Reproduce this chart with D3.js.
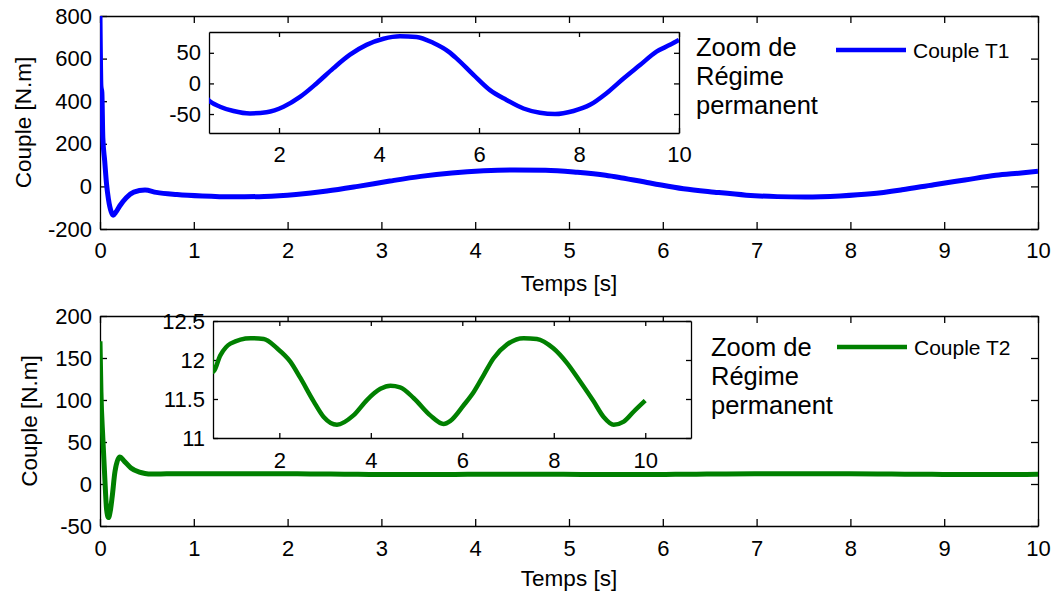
<!DOCTYPE html>
<html>
<head>
<meta charset="utf-8">
<script src="https://cdn.jsdelivr.net/npm/d3@7"></script>
<style>
  body { margin: 0; background: #fff; }
  svg { font-family: "Liberation Sans", Arial, sans-serif; }
</style>
</head>
<body>
<svg id="chart" width="1056" height="592"></svg>
<script>
// Couple T1
const t1Time = [0, 0.01, 0.02, 0.03, 0.05, 0.07, 0.09, 0.12, 0.14, 0.17, 0.21, 0.28, 0.36, 0.48,
  0.6, 0.82, 1.09, 1.42, 1.75, 2.09, 2.42, 2.75, 3.09, 3.42, 3.75, 4.09, 4.42, 4.75, 5.09, 5.39,
  5.55, 5.89, 6.22, 6.55, 6.89, 7.22, 7.52, 7.89, 8.22, 8.55, 8.89, 9.22, 9.55, 9.82, 10];
const t1Value = [800, 470, 440, 230, 120, 10, -60, -120, -135, -120, -92, -53, -27, -17,
  -28, -38, -45, -49, -47, -38, -22, 0, 25, 47, 63, 73, 77, 76, 66, 52,
  41, 14, -11, -27, -41, -48, -50, -45, -35, -16, 8, 30, 52, 63, 71];

// Couple T2
const t2Time = [0, 0.01, 0.03, 0.05, 0.07, 0.09, 0.11, 0.13, 0.16, 0.21, 0.26, 0.33, 0.42, 0.48,
  0.55, 0.71, 0.93, 1.37, 1.66, 1.95, 2.24, 2.46, 2.75, 2.97, 3.26, 3.62, 3.92, 4.21, 4.43, 4.64,
  4.94, 5.3, 5.59, 5.74, 6.03, 6.25, 6.47, 6.68, 6.98, 7.34, 7.63, 7.99, 8.29, 8.58, 8.87, 9.09,
  9.31, 9.53, 9.75, 10];
const t2Value = [170, 110, 55, 10, -30, -40, -32, -15, 15, 32, 27, 19, 14, 12.5,
  11.85, 12.06, 12.21, 12.28, 12.27, 12.15, 11.98, 11.77, 11.47, 11.27, 11.17, 11.29, 11.49, 11.63, 11.67, 11.65,
  11.51, 11.29, 11.18, 11.22, 11.42, 11.59, 11.81, 12.02, 12.2, 12.28, 12.27, 12.15, 11.96, 11.72, 11.47, 11.27,
  11.17, 11.21, 11.34, 11.48];

// ticks
const mainXTicks = [0, 1, 2, 3, 4, 5, 6, 7, 8, 9, 10];
const t1YTicks = [-200, 0, 200, 400, 600, 800];
const t2YTicks = [-50, 0, 50, 100, 150, 200];
const zoomXTicks = [2, 4, 6, 8, 10];
const t1ZoomYTicks = [-50, 0, 50];
const t2ZoomYTicks = [11, 11.5, 12, 12.5];

const legendLabels = ['Couple T1', 'Couple T2'];
const zoomNote = ['Zoom de', 'Régime', 'permanent'];
const xTitle = 'Temps [s]';
const yTitle = 'Couple [N.m]';

const svg = d3.select('#chart');
const fmt = d => String(d);

// draws a boxed axes with inward ticks on all four sides, returns the scales
function axes(id, box, xDom, yDom, xTicks, yTicks, tickLen, pad) {
  const x = d3.scaleLinear().domain(xDom).range([box.left, box.right]);
  const y = d3.scaleLinear().domain(yDom).range([box.bottom, box.top]);
  const g = svg.append('g').attr('class', 'axes');

  g.append('rect')
    .attr('x', box.left).attr('y', box.top)
    .attr('width', box.right - box.left).attr('height', box.bottom - box.top)
    .attr('fill', '#fff');

  svg.append('clipPath').attr('id', id)
    .append('rect')
    .attr('x', box.left).attr('y', box.top - 3)
    .attr('width', box.right - box.left).attr('height', box.bottom - box.top + 3);

  const style = sel => {
    sel.selectAll('path, line').attr('stroke', '#000').attr('stroke-width', 1.3);
    sel.selectAll('text').attr('fill', '#000').style('font-size', '22px');
  };

  g.append('g').attr('transform', `translate(0,${box.bottom})`)
    .call(d3.axisBottom(x).tickValues(xTicks).tickFormat(fmt)
      .tickSizeInner(-tickLen).tickSizeOuter(0).tickPadding(pad.x))
    .call(style);
  g.append('g').attr('transform', `translate(0,${box.top})`)
    .call(d3.axisTop(x).tickValues(xTicks).tickFormat('')
      .tickSizeInner(-tickLen).tickSizeOuter(0))
    .call(style);
  g.append('g').attr('transform', `translate(${box.left},0)`)
    .call(d3.axisLeft(y).tickValues(yTicks).tickFormat(fmt)
      .tickSizeInner(-tickLen).tickSizeOuter(0).tickPadding(pad.y))
    .call(style);
  g.append('g').attr('transform', `translate(${box.right},0)`)
    .call(d3.axisRight(y).tickValues(yTicks).tickFormat('')
      .tickSizeInner(-tickLen).tickSizeOuter(0))
    .call(style);

  g.selectAll('.tick text').attr('font-family', '"Liberation Sans", Arial, sans-serif');
  return { x, y };
}

function drawLine(s, xs, ys, color, width, clipId) {
  const pts = xs.map((t, i) => [t, ys[i]]);
  const line = d3.line()
    .x(d => s.x(d[0]))
    .y(d => s.y(d[1]))
    .curve(d3.curveMonotoneX);
  svg.append('path')
    .datum(pts)
    .attr('clip-path', `url(#${clipId})`)
    .attr('fill', 'none')
    .attr('stroke', color)
    .attr('stroke-width', width)
    .attr('stroke-linejoin', 'round')
    .attr('d', line);
}

function titles(box, xTitleY, yTitleX) {
  svg.append('text')
    .attr('x', (box.left + box.right) / 2).attr('y', xTitleY)
    .attr('text-anchor', 'middle')
    .style('font-size', '22.5px')
    .text(xTitle);
  svg.append('text')
    .attr('transform', `translate(${yTitleX},${(box.top + box.bottom) / 2}) rotate(-90)`)
    .attr('text-anchor', 'middle')
    .style('font-size', '22.5px')
    .text(yTitle);
}

function legend(label, color, lx, ly, noteX, noteY) {
  svg.append('line')
    .attr('x1', lx).attr('x2', lx + 70)
    .attr('y1', ly).attr('y2', ly)
    .attr('stroke', color).attr('stroke-width', 4.5);
  svg.append('text')
    .attr('x', lx + 77).attr('y', ly + 8)
    .style('font-size', '21px')
    .text(label);
  svg.append('text')
    .attr('x', noteX).attr('y', noteY)
    .style('font-size', '25.5px')
    .selectAll('tspan')
    .data(zoomNote)
    .enter()
    .append('tspan')
    .attr('x', noteX)
    .attr('dy', (d, i) => i === 0 ? 0 : 29)
    .text(d => d);
}

// ---- top: Couple T1
const box1 = { left: 100, right: 1038, top: 16, bottom: 229 };
const s1 = axes('clip1', box1, [0, 10], [-200, 800], mainXTicks, t1YTicks, 7, { x: 13, y: 8 });
drawLine(s1, t1Time, t1Value, '#0000ff', 5, 'clip1');
titles(box1, 291, 31);

const zoom1 = { left: 209, right: 679, top: 32, bottom: 133 };
const z1 = axes('clipz1', zoom1, [0.6, 10], [-81, 84], zoomXTicks, t1ZoomYTicks, 5, { x: 13, y: 8 });
drawLine(z1, t1Time, t1Value, '#0000ff', 4.5, 'clipz1');
legend(legendLabels[0], '#0000ff', 836, 50, 696, 56);

// ---- bottom: Couple T2
const box2 = { left: 100, right: 1038, top: 316, bottom: 526 };
const s2 = axes('clip2', box2, [0, 10], [-50, 200], mainXTicks, t2YTicks, 7, { x: 14, y: 8 });
drawLine(s2, t2Time, t2Value, '#008000', 5, 'clip2');
titles(box2, 586, 37);

const zoom2 = { left: 213, right: 691, top: 321, bottom: 438 };
const z2 = axes('clipz2', zoom2, [0.55, 11], [11, 12.5], zoomXTicks, t2ZoomYTicks, 5, { x: 14, y: 8 });
drawLine(z2, t2Time, t2Value, '#008000', 4.5, 'clipz2');
legend(legendLabels[1], '#008000', 837, 347, 711, 356);
</script>
</body>
</html>
